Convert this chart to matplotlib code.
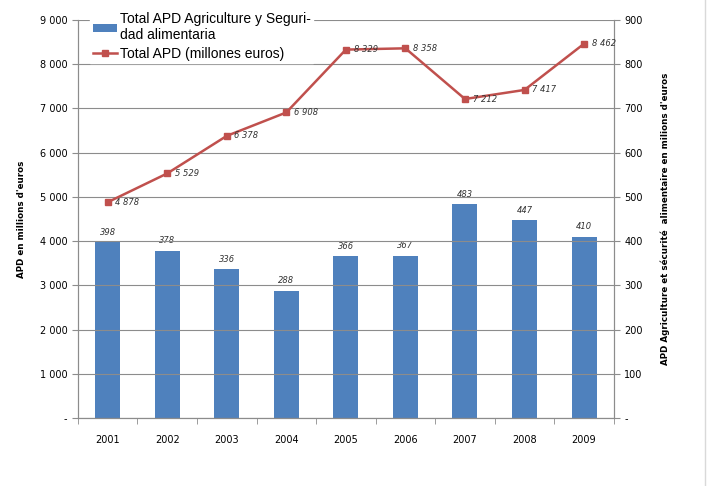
import matplotlib.pyplot as plt
import numpy as np

years = ['2001', '2002', '2003', '2004', '2005', '2006', '2007', '2008', '2009']
agri = [398, 378, 336, 288, 366, 367, 483, 447, 410]
total = [4878, 5529, 6378, 6908, 8329, 8358, 7212, 7417, 8462]

left_ticks = [0, 1000, 2000, 3000, 4000, 5000, 6000, 7000, 8000, 9000]
left_labels = ['-', '1 000', '2 000', '3 000', '4 000', '5 000', '6 000', '7 000', '8 000', '9 000']
right_ticks = [0, 100, 200, 300, 400, 500, 600, 700, 800, 900]
right_labels = ['-', '100', '200', '300', '400', '500', '600', '700', '800', '900']


def fmt(v):
    return '{:,}'.format(v).replace(',', ' ')


plt.rcParams['font.family'] = ['DejaVu Sans']
fig = plt.figure(figsize=(7.08, 4.86), dpi=100)
ax = fig.add_axes([0.110, 0.140, 0.757, 0.819])
ax2 = ax.twinx()
x = np.arange(len(years))
grey = '#8c8c8c'

ax.set_ylim(0, 9000)
ax2.set_ylim(0, 900)
ax.set_xlim(-0.5, len(years) - 0.5)
ax.set_yticks(left_ticks)
ax.set_yticklabels(left_labels, fontsize=7)
ax2.set_yticks(right_ticks)
ax2.set_yticklabels(right_labels, fontsize=7)
ax.yaxis.grid(True, color=grey, linewidth=0.8)
ax.set_axisbelow(True)

bars = ax2.bar(x, agri, width=0.42, color='#4f81bd', zorder=2,
               label='Total APD Agriculture y Seguri-\ndad alimentaria')
for xi, v in zip(x, agri):
    ax2.text(xi, v + 12, str(v), ha='center', va='bottom', fontsize=6, style='italic', color='#333333')

ax2.set_zorder(1)
ax.set_zorder(2)
ax.patch.set_visible(False)
line, = ax.plot(x, total, color='#c0504d', linewidth=1.8, marker='s', markersize=5,
                label='Total APD (millones euros)')
for xi, v in zip(x, total):
    ax.text(xi + 0.13, v, fmt(v), ha='left', va='center', fontsize=6, style='italic', color='#333333')

ax.set_xticks(x)
ax.set_xticklabels(years, fontsize=7)
ax.set_xticks(np.arange(-0.5, len(years)), minor=True)
ax.tick_params(axis='x', which='major', length=0, pad=12)
ax.tick_params(axis='x', which='minor', length=4, color=grey)
ax.tick_params(axis='y', length=4, color=grey)
ax2.tick_params(axis='y', length=4, color=grey)

for a in (ax, ax2):
    a.spines['top'].set_visible(False)
    for s in ('left', 'right', 'bottom'):
        a.spines[s].set_color(grey)

ax.set_ylabel("APD en millions d'euros", fontsize=6.3, fontweight='bold', labelpad=10)
ax2.set_ylabel("APD Agriculture et sécurité  alimentaire en milions d'euros", fontsize=6.3,
               fontweight='bold', labelpad=13)

leg = fig.legend([bars, line], [bars.get_label(), line.get_label()],
                 loc='upper left', bbox_to_anchor=(0.118, 0.995),
                 prop={'family': 'Liberation Sans', 'size': 10},
                 frameon=True, fancybox=False, edgecolor='white', framealpha=1,
                 handlelength=1.7, handleheight=0.5, handletextpad=0.2,
                 labelspacing=0.3, borderpad=0.2)

# faint frame line at the right edge of the chart area
fig.add_artist(plt.Line2D([0.996, 0.996], [0.0, 1.0], color='#d9d9d9', linewidth=1))

fig.savefig('out.png', dpi=100)
